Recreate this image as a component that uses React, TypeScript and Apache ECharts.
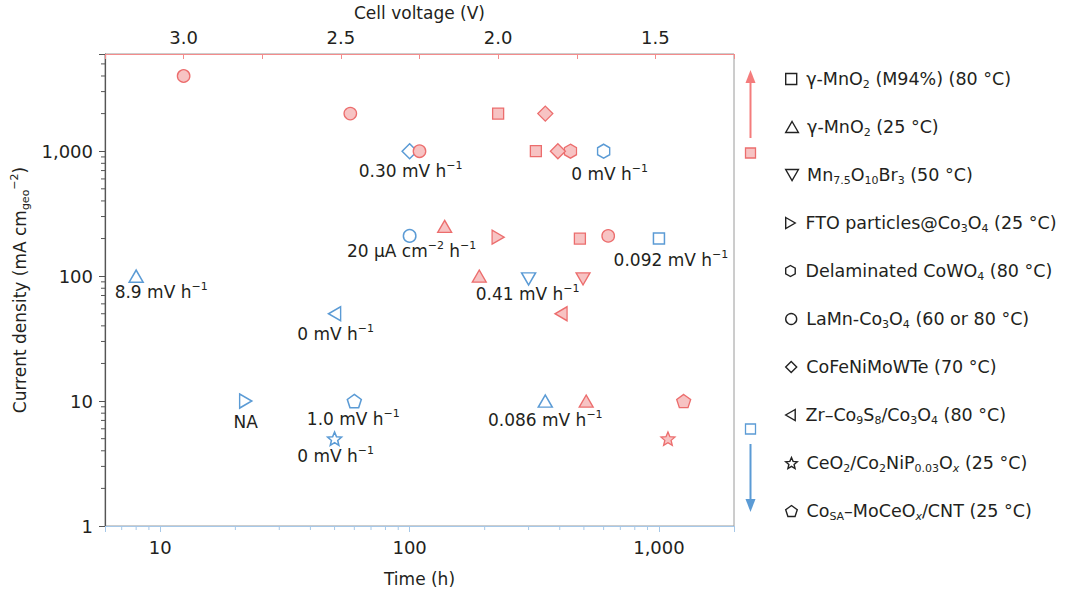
import React, { useEffect, useRef } from "react";
import * as echarts from "echarts";

const FONT = "'DejaVu Sans', 'Noto Sans', Arial, sans-serif";
const TEXT = "#231f20";
const RED_LINE = "#ec6d6d";
const RED_FILL = "#f7c3c3";
const RED_AXIS = "#f38c8c";
const RED_ARROW = "#f47c7c";
const BLUE = "#5b9bd5";
const BLUE_AXIS = "#a6c8e8";

// Axis ranges
const TIME_RANGE = [6, 2000];
const CURRENT_RANGE = [1, 6000];
const VOLTAGE_RANGE = [1.25, 3.25];
const VOLTAGE_STEP = 0.25;

// Legend entries (markup: _{..} subscript, _{*..} italic subscript, ^{..} superscript)
const materials = [
  "γ-MnO_{2} (M94%) (80 °C)",
  "γ-MnO_{2} (25 °C)",
  "Mn_{7.5}O_{10}Br_{3} (50 °C)",
  "FTO particles@Co_{3}O_{4} (25 °C)",
  "Delaminated CoWO_{4} (80 °C)",
  "LaMn-Co_{3}O_{4} (60 or 80 °C)",
  "CoFeNiMoWTe (70 °C)",
  "Zr–Co_{9}S_{8}/Co_{3}O_{4} (80 °C)",
  "CeO_{2}/Co_{2}NiP_{0.03}O_{*x} (25 °C)",
  "Co_{SA}–MoCeO_{*x}/CNT (25 °C)",
];

// Red points: cell voltage (V) vs current density
const redMaterial = [0, 0, 0, 1, 1, 1, 2, 3, 4, 5, 5, 5, 5, 6, 6, 7, 8, 9];
const redVoltage = [2.0, 1.88, 1.74, 2.17, 2.06, 1.72, 1.73, 2.0, 1.77, 3.0, 2.47, 2.25, 1.65, 1.85, 1.81, 1.8, 1.46, 1.41];
const redCurrent = [2000, 1000, 200, 250, 100, 10, 95, 205, 1000, 4000, 2000, 1000, 210, 2000, 1000, 50, 5, 10];

// Blue points: time (h) vs current density, with degradation-rate notes
const blueMaterial = [0, 1, 1, 2, 3, 4, 5, 6, 7, 8, 9];
const blueTime = [1000, 8, 350, 300, 22, 600, 100, 100, 50, 50, 60];
const blueCurrent = [200, 100, 10, 95, 10, 1000, 210, 1000, 50, 5, 10];
const blueNotes = [
  "0.092 mV h^{−1}",
  "8.9 mV h^{−1}",
  "0.086 mV h^{−1}",
  "0.41 mV h^{−1}",
  "NA",
  "0 mV h^{−1}",
  "20 µA cm^{−2} h^{−1}",
  "0.30 mV h^{−1}",
  "0 mV h^{−1}",
  "0 mV h^{−1}",
  "1.0 mV h^{−1}",
];
const noteOffsets = [[12, 21], [25, 16], [0, 19], [-1, 15], [0, 21], [6, 23], [2, 15], [1, 20], [1, 20], [1, 17], [-1, 18]];

// Minor tick values for the log axes
const minorCurrentTicks = [2, 3, 4, 5, 6, 7, 8, 9, 20, 30, 40, 50, 60, 70, 80, 90, 200, 300, 400, 500, 600, 700, 800, 900, 2000, 3000, 4000, 5000];
const minorTimeTicks = [7, 8, 9, 20, 30, 40, 50, 60, 70, 80, 90, 200, 300, 400, 500, 600, 700, 800, 900];

// Marker shapes
const SQUARE = "path://M0,0L2,0L2,2L0,2Z";
const TRI_UP = "path://M1,0L2,1.73L0,1.73Z";
const TRI_DOWN = "path://M0,0L2,0L1,1.73Z";
const TRI_RIGHT = "path://M0,0L1.73,1L0,2Z";
const TRI_LEFT = "path://M1.73,0L0,1L1.73,2Z";
const DIAMOND = "path://M1,0L2,1L1,2L0,1Z";
const HEXAGON = "path://M0.866,0L1.732,0.5L1.732,1.5L0.866,2L0,1.5L0,0.5Z";
function polyPath(n: number, inner: number) {
  const pts: string[] = [];
  const steps = inner > 0 ? n * 2 : n;
  for (let i = 0; i < steps; i++) {
    const r = inner > 0 && i % 2 === 1 ? inner : 1;
    const a = -Math.PI / 2 + (i * 2 * Math.PI) / steps;
    pts.push((Math.cos(a) * r).toFixed(4) + "," + (Math.sin(a) * r).toFixed(4));
  }
  return "path://M" + pts.join("L") + "Z";
}
const PENTAGON = polyPath(5, 0);
const STAR = polyPath(5, 0.45);

const SYMBOLS = [SQUARE, TRI_UP, TRI_DOWN, TRI_RIGHT, HEXAGON, "circle", DIAMOND, TRI_LEFT, STAR, PENTAGON];
const SYMBOL_SIZES: any[] = [[11, 11], [14, 12.1], [14, 12.1], [12.1, 14], [12.1, 14], 12.5, [15, 15], [12.1, 14], [14, 13.3], [14, 13.3]];

const plain = (s: string) => s.replace(/[_^]\{\*?([^}]*)\}/g, "$1");
const plainNames = materials.map(plain);

function toRich(s: string) {
  const out: string[] = [];
  const re = /([_^])\{(\*?)([^}]*)\}/g;
  let last = 0;
  let m: RegExpExecArray | null;
  while ((m = re.exec(s))) {
    if (m.index > last) out.push(`{n|${s.slice(last, m.index)}}`);
    const style = m[1] === "^" ? "sup" : m[2] ? "subi" : "sub";
    out.push(`{${style}|${m[3]}}`);
    last = re.lastIndex;
  }
  if (last < s.length) out.push(`{n|${s.slice(last)}}`);
  return out.join("");
}

function makeRich(size: number) {
  const small = Math.round(size * 0.65);
  return {
    n: { fontSize: size, lineHeight: 22, fontFamily: FONT, color: TEXT },
    sub: { fontSize: small, lineHeight: 11, verticalAlign: "bottom", fontFamily: FONT, color: TEXT },
    subi: { fontSize: small, lineHeight: 11, verticalAlign: "bottom", fontStyle: "italic", fontFamily: FONT, color: TEXT },
    sup: { fontSize: small, lineHeight: 11, verticalAlign: "top", fontFamily: FONT, color: TEXT },
  };
}
const RICH = makeRich(17);
const LEGEND_RICH = makeRich(17.5);

const isPow10 = (v: number) => Math.abs(Math.log10(v) - Math.round(Math.log10(v))) < 1e-6;

function buildOption() {
  const blueSeries = materials.map((_, k) => ({
    type: "scatter",
    name: plainNames[k],
    xAxisIndex: 0,
    yAxisIndex: 0,
    symbol: SYMBOLS[k],
    symbolSize: SYMBOL_SIZES[k],
    z: 3,
    emphasis: { disabled: true },
    itemStyle: { color: "rgba(255,255,255,0)", borderColor: BLUE, borderWidth: 1.5, opacity: 1 },
    label: {
      show: true,
      position: "inside",
      color: TEXT,
      textBorderWidth: 0,
      formatter: (p: any) => toRich(p.data.note),
      rich: RICH,
    },
    data: blueTime
      .map((t, i) => ({ i, t }))
      .filter((d) => blueMaterial[d.i] === k)
      .map((d) => ({
        value: [d.t, blueCurrent[d.i]],
        note: blueNotes[d.i],
        label: { offset: noteOffsets[d.i] },
      })),
  }));

  const redSeries = materials.map((_, k) => ({
    type: "scatter",
    name: plainNames[k],
    xAxisIndex: 1,
    yAxisIndex: 0,
    symbol: SYMBOLS[k],
    symbolSize: SYMBOL_SIZES[k],
    z: 4,
    emphasis: { disabled: true },
    itemStyle: { color: RED_FILL, borderColor: RED_LINE, borderWidth: 1.3, opacity: 1 },
    data: redVoltage
      .map((v, i) => ({ i, v }))
      .filter((d) => redMaterial[d.i] === k)
      .map((d) => [d.v, redCurrent[d.i]]),
  }));

  const yMinorSeries = {
    type: "custom",
    xAxisIndex: 0,
    yAxisIndex: 0,
    silent: true,
    z: 2,
    clip: false,
    data: minorCurrentTicks.map((v) => [TIME_RANGE[0], v]),
    renderItem: (params: any, api: any) => {
      const p = api.coord([TIME_RANGE[0], api.value(1)]);
      const x = params.coordSys.x;
      return {
        type: "line",
        shape: { x1: x - 4, y1: p[1], x2: x, y2: p[1] },
        style: { stroke: "#555", lineWidth: 1 },
      };
    },
  };
  const xMinorSeries = {
    type: "custom",
    xAxisIndex: 0,
    yAxisIndex: 0,
    silent: true,
    z: 2,
    clip: false,
    data: minorTimeTicks.map((v) => [v, CURRENT_RANGE[0]]),
    renderItem: (params: any, api: any) => {
      const p = api.coord([api.value(0), CURRENT_RANGE[0]]);
      const y = params.coordSys.y + params.coordSys.height;
      return {
        type: "line",
        shape: { x1: p[0], y1: y, x2: p[0], y2: y + 4 },
        style: { stroke: BLUE_AXIS, lineWidth: 1 },
      };
    },
  };

  const legends = materials.map((_, k) => ({
    orient: "vertical",
    left: 780,
    top: 65 + 48 * k,
    itemWidth: 20,
    itemHeight: 11,
    selectedMode: false,
    symbolKeepAspect: true,
    data: [
      {
        name: plainNames[k],
        icon: SYMBOLS[k],
        itemStyle: { color: "rgba(0,0,0,0)", borderColor: "#222", borderWidth: 1.4 },
      },
    ],
    formatter: (name: string) => toRich(materials[plainNames.indexOf(name)]),
    textStyle: { fontSize: 17.5, color: TEXT, fontFamily: FONT, rich: LEGEND_RICH },
  }));

  const tickLabel = {
    fontSize: 18,
    color: TEXT,
    fontFamily: FONT,
  };

  return {
    animation: false,
    textStyle: { fontFamily: FONT, color: TEXT },
    grid: {
      left: 105,
      top: 54,
      width: 629,
      height: 472,
      show: true,
      borderColor: "#9a9a9a",
      borderWidth: 1,
      outerBoundsMode: "none",
    },
    xAxis: [
      {
        type: "log",
        logBase: 10,
        position: "bottom",
        min: TIME_RANGE[0],
        max: TIME_RANGE[1],
        name: "Time (h)",
        nameLocation: "middle",
        nameGap: 44,
        nameTextStyle: { fontSize: 17, color: TEXT, fontFamily: FONT },
        axisLine: { show: true, lineStyle: { color: BLUE_AXIS, width: 1.2 } },
        axisTick: { show: true, inside: false, length: 6, lineStyle: { color: BLUE_AXIS, width: 1 } },
        axisLabel: {
          ...tickLabel,
          margin: 12,
          formatter: (v: number) => (isPow10(v) ? Math.round(v).toLocaleString("en-US") : ""),
        },
        splitLine: { show: false },
        minorTick: { show: false },
      },
      {
        type: "value",
        position: "top",
        min: VOLTAGE_RANGE[0],
        max: VOLTAGE_RANGE[1],
        interval: VOLTAGE_STEP,
        inverse: true,
        name: "Cell voltage (V)",
        nameLocation: "middle",
        nameGap: 33,
        nameTextStyle: { fontSize: 17, color: TEXT, fontFamily: FONT },
        axisLine: { show: true, lineStyle: { color: RED_AXIS, width: 1.2 } },
        axisTick: { show: true, inside: true, length: 5, lineStyle: { color: RED_AXIS, width: 1 } },
        axisLabel: {
          ...tickLabel,
          interval: 0,
          margin: 8,
          formatter: (v: number) => (Math.abs(v * 2 - Math.round(v * 2)) < 1e-6 ? v.toFixed(1) : ""),
        },
        splitLine: { show: false },
      },
    ],
    yAxis: {
      type: "log",
      logBase: 10,
      min: CURRENT_RANGE[0],
      max: CURRENT_RANGE[1],
      name: toRich("Current density (mA cm_{geo}^{−2})"),
      nameLocation: "middle",
      nameGap: 72,
      nameTextStyle: { fontSize: 17, color: TEXT, fontFamily: FONT, rich: RICH },
      axisLine: { show: true, lineStyle: { color: "#555", width: 1.2 } },
      axisTick: { show: true, inside: false, length: 6, lineStyle: { color: "#555", width: 1 } },
      axisLabel: {
        ...tickLabel,
        margin: 12,
        formatter: (v: number) => (isPow10(v) ? Math.round(v).toLocaleString("en-US") : ""),
      },
      splitLine: { show: false },
      minorTick: { show: false },
    },
    legend: legends,
    graphic: [
      { type: "line", shape: { x1: 750.5, y1: 138, x2: 750.5, y2: 80 }, style: { stroke: RED_ARROW, lineWidth: 2 } },
      { type: "polygon", shape: { points: [[750.5, 70], [755.5, 83], [745.5, 83]] }, style: { fill: RED_ARROW } },
      { type: "rect", shape: { x: 745.5, y: 148, width: 10, height: 10 }, style: { fill: RED_FILL, stroke: RED_LINE, lineWidth: 1.3 } },
      { type: "rect", shape: { x: 745.5, y: 424, width: 10, height: 10 }, style: { fill: "#fff", stroke: BLUE, lineWidth: 1.3 } },
      { type: "line", shape: { x1: 750.5, y1: 444, x2: 750.5, y2: 502 }, style: { stroke: BLUE, lineWidth: 2 } },
      { type: "polygon", shape: { points: [[750.5, 512], [755.5, 499], [745.5, 499]] }, style: { fill: BLUE } },
    ],
    series: [...blueSeries, ...redSeries, yMinorSeries, xMinorSeries],
  };
}

export default function App() {
  const ref = useRef<HTMLDivElement>(null);
  useEffect(() => {
    document.body.style.margin = "0";
    const chart = echarts.init(ref.current!, undefined, { renderer: "svg" });
    chart.setOption(buildOption() as any);
    return () => chart.dispose();
  }, []);
  return <div ref={ref} style={{ width: 1080, height: 603, overflow: "hidden" }} />;
}
